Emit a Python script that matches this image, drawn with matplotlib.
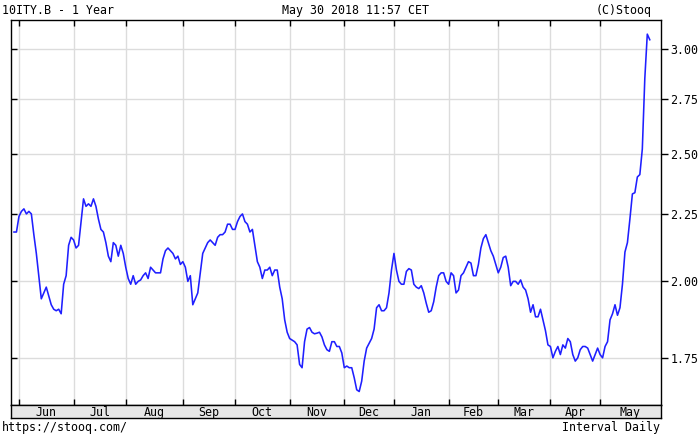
import matplotlib
matplotlib.use("Agg")
import matplotlib.pyplot as plt
import numpy as np
import pandas as pd
from matplotlib.ticker import FixedLocator, FixedFormatter, NullLocator

# ---- data ----
title_left = "10ITY.B - 1 Year"
title_mid = "May 30 2018 11:57 CET"
title_right = "(C)Stooq"
foot_left = "https://stooq.com/"
foot_right = "Interval Daily"

start_date = "2017-05-30"
end_date = "2018-05-30"
holidays = ["2017-12-25", "2018-01-01", "2018-03-30", "2018-04-02", "2018-05-01"]

yields = [
    2.18, 2.18, 2.24, 2.26, 2.27, 2.25, 2.26, 2.25, 2.17, 2.10,
    2.02, 1.94, 1.96, 1.98, 1.95, 1.92, 1.905, 1.90, 1.905, 1.89,
    1.99, 2.02, 2.13, 2.16, 2.15, 2.12, 2.13, 2.22, 2.31, 2.28,
    2.29, 2.28, 2.31, 2.28, 2.23, 2.19, 2.18, 2.14, 2.09, 2.07,
    2.14, 2.13, 2.09, 2.13, 2.10, 2.05, 2.01, 1.99, 2.02, 1.99,
    2.00, 2.005, 2.02, 2.03, 2.01, 2.05, 2.04, 2.03, 2.03, 2.03,
    2.08, 2.11, 2.12, 2.11, 2.10, 2.08, 2.09, 2.06, 2.07, 2.05,
    2.00, 2.02, 1.92, 1.94, 1.96, 2.03, 2.10, 2.12, 2.14, 2.15,
    2.14, 2.13, 2.16, 2.17, 2.17, 2.18, 2.21, 2.21, 2.19, 2.19,
    2.22, 2.24, 2.25, 2.22, 2.21, 2.18, 2.19, 2.13, 2.07, 2.05,
    2.01, 2.04, 2.04, 2.05, 2.02, 2.04, 2.04, 1.98, 1.94, 1.87,
    1.83, 1.81, 1.805, 1.80, 1.79, 1.73, 1.72, 1.80, 1.84, 1.845,
    1.83, 1.825, 1.827, 1.83, 1.815, 1.79, 1.775, 1.77, 1.80, 1.80,
    1.785, 1.785, 1.765, 1.72, 1.725, 1.72, 1.72, 1.69, 1.655, 1.65,
    1.68, 1.74, 1.78, 1.795, 1.81, 1.84, 1.91, 1.92, 1.90, 1.90,
    1.91, 1.96, 2.04, 2.10, 2.04, 2.00, 1.99, 1.99, 2.035, 2.045,
    2.04, 1.99, 1.98, 1.975, 1.985, 1.96, 1.925, 1.895, 1.90, 1.93,
    1.98, 2.02, 2.03, 2.03, 2.00, 1.99, 2.03, 2.02, 1.96, 1.97,
    2.02, 2.03, 2.05, 2.07, 2.065, 2.02, 2.02, 2.06, 2.12, 2.155,
    2.17, 2.14, 2.11, 2.09, 2.06, 2.03, 2.05, 2.085, 2.09, 2.05,
    1.985, 2.00, 2.00, 1.99, 2.005, 1.98, 1.97, 1.94, 1.895, 1.92,
    1.88, 1.88, 1.905, 1.87, 1.835, 1.79, 1.785, 1.75, 1.77, 1.785,
    1.76, 1.79, 1.78, 1.81, 1.80, 1.76, 1.74, 1.75, 1.775, 1.785,
    1.785, 1.78, 1.76, 1.74, 1.76, 1.78, 1.76, 1.75, 1.785, 1.80,
    1.87, 1.89, 1.92, 1.885, 1.91, 1.99, 2.105, 2.14, 2.23, 2.33,
    2.335, 2.40, 2.41, 2.52, 2.85, 3.08, 3.05,
]

y_ticks = [1.75, 2.00, 2.25, 2.50, 2.75, 3.00]
y_min, y_max = 1.613, 3.157

# ---- build trading-day axis ----
dates = pd.bdate_range(start_date, end_date)
dates = dates[~dates.isin(pd.to_datetime(holidays))]
n = min(len(dates), len(yields))
dates = dates[:n]
vals = np.array(yields[:n])
xi = np.arange(n)

month_starts = [k for k in range(1, n) if dates[k].month != dates[k - 1].month]
month_names = [dates[k].strftime("%b") for k in month_starts]
x_lo, x_hi = -1.2, n + 3.4

W, H = 700, 438
FONT = "DejaVu Sans Mono"
FS = 8.4

fig = plt.figure(figsize=(W / 100, H / 100), dpi=100)
fig.patch.set_facecolor("white")

ax_l, ax_r, ax_t, ax_b = 11, 660.7, 20, 404.5
ax = fig.add_axes([ax_l / W, 1 - ax_b / H, (ax_r - ax_l) / W, (ax_b - ax_t) / H])
ax.set_yscale("log")
ax.set_xlim(x_lo, x_hi)
ax.set_ylim(y_min, y_max)

ax.plot(xi, vals, color="#1f1fff", lw=1.15, solid_joinstyle="round", zorder=3)

# grid
for k in month_starts:
    ax.axvline(k, color="#dcdcdc", lw=1.0, zorder=1)
for t in y_ticks:
    ax.axhline(t, color="#dcdcdc", lw=1.0, zorder=1)

ax.xaxis.set_major_locator(FixedLocator(month_starts))
ax.xaxis.set_minor_locator(NullLocator())
ax.tick_params(axis="x", which="major", direction="in", top=True, bottom=True,
               labelbottom=False, length=4, width=1, color="black")
ax.yaxis.set_major_locator(FixedLocator(y_ticks))
ax.yaxis.set_minor_locator(NullLocator())
ax.tick_params(axis="y", which="major", direction="in", left=True, right=False,
               labelleft=False, length=4, width=1, color="black")
for s in ax.spines.values():
    s.set_color("black")
    s.set_linewidth(1.0)

ax2 = ax.twinx()
ax2.set_yscale("log")
ax2.set_ylim(y_min, y_max)
ax2.yaxis.set_major_locator(FixedLocator(y_ticks))
ax2.yaxis.set_major_formatter(FixedFormatter(["%.2f" % t for t in y_ticks]))
ax2.yaxis.set_minor_locator(NullLocator())
ax2.tick_params(axis="y", which="major", direction="out", right=True, left=False,
                labelright=True, length=5, width=1, pad=2, labelsize=FS)
for lab in ax2.get_yticklabels():
    lab.set_family(FONT)
for s in ax2.spines.values():
    s.set_visible(False)

# month strip
st_t, st_b = 404.5, 417.7
sax = fig.add_axes([ax_l / W, 1 - st_b / H, (ax_r - ax_l) / W, (st_b - st_t) / H])
sax.set_facecolor("#e6e6e6")
sax.set_xlim(x_lo, x_hi)
sax.set_ylim(0, 1)
sax.set_xticks([])
sax.set_yticks([])
for s in sax.spines.values():
    s.set_color("black")
    s.set_linewidth(1.0)
bounds = month_starts + [x_hi]
for k in range(len(month_starts)):
    cx = (bounds[k] + bounds[k + 1]) / 2
    sax.text(cx, 0.42, month_names[k], ha="center", va="center",
             family=FONT, fontsize=FS, color="black")

# header / footer texts
fig.text(2 / W, 1 - 10.5 / H, title_left, ha="left", va="center", family=FONT, fontsize=FS)
fig.text(355 / W, 1 - 10.5 / H, title_mid, ha="center", va="center", family=FONT, fontsize=FS)
fig.text(652 / W, 1 - 10.5 / H, title_right, ha="right", va="center", family=FONT, fontsize=FS)
fig.text(2 / W, 1 - 428 / H, foot_left, ha="left", va="center", family=FONT, fontsize=FS)
fig.text(660 / W, 1 - 428 / H, foot_right, ha="right", va="center", family=FONT, fontsize=FS)

fig.savefig("out.png", dpi=100, facecolor="white")
